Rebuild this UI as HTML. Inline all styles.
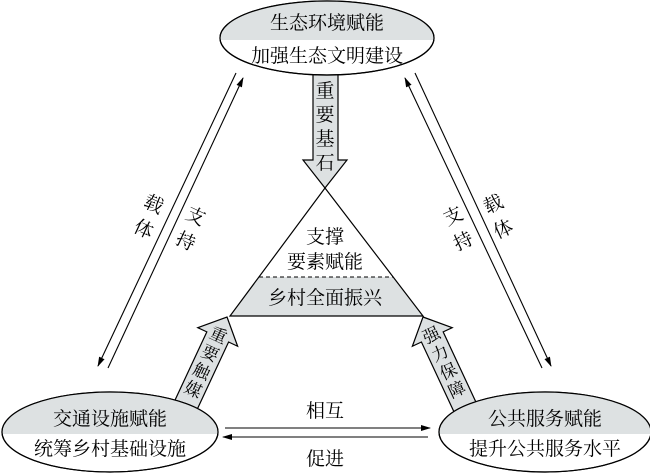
<!DOCTYPE html>
<html><head><meta charset="utf-8"><style>
html,body{margin:0;padding:0;background:#fff;}
svg{display:block;font-family:"Liberation Serif","Noto Serif CJK SC","Noto Sans CJK SC",serif;}
</style></head><body>
<svg width="650" height="474" viewBox="0 0 650 474" xmlns="http://www.w3.org/2000/svg">
<defs>
<marker id="ah" markerWidth="10" markerHeight="10" refX="9" refY="3" orient="auto" markerUnits="userSpaceOnUse">
<path d="M0,0 L10,3 L0,6 z" fill="#000"/></marker>
<clipPath id="ct"><rect x="0" y="0" width="650" height="40"/></clipPath>
<clipPath id="cb"><rect x="0" y="0" width="650" height="434"/></clipPath>
</defs>
<g fill="#dde1e2" stroke="#000" stroke-width="1.2">
<g transform="translate(227,317) rotate(25)">
<path d="M0,0 L22,22 L12,22 L12,130 L-12,130 L-12,22 L-22,22 Z"/>
</g>
<g transform="translate(423,317) rotate(-25)">
<path d="M0,0 L22,22 L12,22 L12,130 L-12,130 L-12,22 L-22,22 Z"/>
</g>
<path d="M313,70 L338,70 L338,160 L347,160 L325,188 L303,160 L313,160 Z"/>
</g>
<path d="M325,188 L423,316 L230,316 Z" fill="#fff" stroke="none"/>
<path d="M259,277 L393,277 L423,316 L230,316 Z" fill="#dde1e2"/>
<path d="M325,188 L423,316 L230,316 Z" fill="none" stroke="#000" stroke-width="1.2"/>
<line x1="259" y1="277" x2="393" y2="277" stroke="#000" stroke-dasharray="4,3"/>
<g stroke="#000" stroke-width="1.2">
<ellipse cx="327" cy="38" rx="107" ry="37" fill="#fff"/>
<ellipse cx="327" cy="38" rx="107" ry="37" fill="#dde1e2" clip-path="url(#ct)" stroke="none"/>
<ellipse cx="327" cy="38" rx="107" ry="37" fill="none"/>
<ellipse cx="110" cy="432" rx="108" ry="40" fill="#fff"/>
<ellipse cx="110" cy="432" rx="108" ry="40" fill="#dde1e2" clip-path="url(#cb)" stroke="none"/>
<ellipse cx="110" cy="432" rx="108" ry="40" fill="none"/>
<ellipse cx="545" cy="432" rx="106" ry="40" fill="#fff"/>
<ellipse cx="545" cy="432" rx="106" ry="40" fill="#dde1e2" clip-path="url(#cb)" stroke="none"/>
<ellipse cx="545" cy="432" rx="106" ry="40" fill="none"/>
</g>
<g stroke="#000" stroke-width="1.1">
<line x1="236" y1="73" x2="98" y2="366" marker-end="url(#ah)"/>
<line x1="108" y1="368" x2="243" y2="78" marker-end="url(#ah)"/>
<line x1="415" y1="73" x2="551" y2="366" marker-end="url(#ah)"/>
<line x1="542" y1="368" x2="405" y2="78" marker-end="url(#ah)"/>
<line x1="225" y1="428" x2="430" y2="428" marker-end="url(#ah)"/>
<line x1="428" y1="437" x2="223" y2="437" marker-end="url(#ah)"/>
</g>
<g font-size="19" fill="#000" text-anchor="middle">
<text x="327" y="29">生态环境赋能</text>
<text x="327" y="62">加强生态文明建设</text>
<text x="110" y="425">交通设施赋能</text>
<text x="110" y="455">统筹乡村基础设施</text>
<text x="545" y="425">公共服务赋能</text>
<text x="545" y="455">提升公共服务水平</text>
<text x="325" y="243">支撑</text>
<text x="325" y="268">要素赋能</text>
<text x="325" y="304">乡村全面振兴</text>
<text x="325" y="417">相互</text>
<text x="325" y="465">促进</text>
<text x="325" y="97">重</text>
<text x="325" y="121">要</text>
<text x="325" y="145">基</text>
<text x="325" y="169">石</text>
<g font-size="17">
<g transform="translate(227,317) rotate(25)">
<text x="0" y="26">重</text><text x="0" y="46">要</text><text x="0" y="66">触</text><text x="0" y="86">媒</text>
</g>
<g transform="translate(423,317) rotate(-25)">
<text x="0" y="26">强</text><text x="0" y="46">力</text><text x="0" y="66">保</text><text x="0" y="86">障</text>
</g>
</g>
<text transform="translate(151,210) rotate(25)">载</text>
<text transform="translate(141,235) rotate(25)">体</text>
<text transform="translate(193,222) rotate(25)">支</text>
<text transform="translate(183,247) rotate(25)">持</text>
<text transform="translate(456,222) rotate(-25)">支</text>
<text transform="translate(466,247) rotate(-25)">持</text>
<text transform="translate(496,210) rotate(-25)">载</text>
<text transform="translate(506,235) rotate(-25)">体</text>
</g>
</svg>
</body></html>
